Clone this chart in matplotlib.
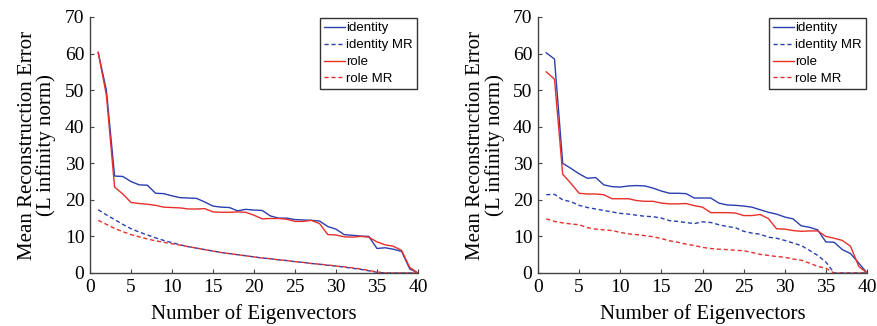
import matplotlib
matplotlib.use("Agg")
import matplotlib.pyplot as plt

# eigenvector counts
n_eig = list(range(1, 41))

# left panel
left_identity = [60.3, 50.0, 26.5, 26.4, 25.0, 24.1, 24.0, 21.8, 21.7, 21.1,
                 20.6, 20.5, 20.4, 19.4, 18.3, 18.0, 17.9, 17.0, 17.4, 17.2,
                 17.1, 15.6, 15.0, 15.0, 14.6, 14.5, 14.4, 14.2, 12.7, 12.0,
                 10.5, 10.3, 10.1, 10.0, 6.7, 6.9, 6.5, 5.9, 1.1, 0.0]
left_identity_mr = [17.3, 15.9, 14.6, 13.3, 12.1, 11.2, 10.4, 9.6, 8.9, 8.3,
                    7.7, 7.2, 6.8, 6.4, 6.0, 5.6, 5.3, 5.0, 4.7, 4.4,
                    4.1, 3.9, 3.6, 3.4, 3.1, 2.9, 2.6, 2.4, 2.1, 1.9,
                    1.6, 1.3, 1.0, 0.6, 0.2, 0.0, 0.0, 0.0, 0.0, 0.0]
left_role = [60.3, 48.6, 23.5, 21.6, 19.3, 19.0, 18.8, 18.5, 18.0, 17.9,
             17.8, 17.5, 17.5, 17.6, 16.7, 16.6, 16.6, 16.7, 16.6, 15.8,
             14.8, 14.9, 14.9, 14.7, 14.1, 14.1, 14.4, 13.5, 10.5, 10.4,
             9.9, 9.8, 10.0, 9.8, 8.5, 7.7, 7.3, 6.2, 1.5, 0.0]
left_role_mr = [14.4, 13.3, 12.2, 11.3, 10.5, 9.9, 9.3, 8.8, 8.4, 8.0,
                7.6, 7.2, 6.8, 6.4, 6.0, 5.6, 5.3, 5.0, 4.7, 4.4,
                4.1, 3.9, 3.6, 3.4, 3.1, 2.9, 2.6, 2.4, 2.2, 1.9,
                1.7, 1.4, 1.1, 0.7, 0.3, 0.0, 0.0, 0.0, 0.0, 0.0]

# right panel
right_identity = [60.2, 58.5, 30.0, 28.6, 27.1, 25.9, 26.1, 24.1, 23.6, 23.5,
                  23.8, 23.9, 23.8, 23.2, 22.4, 21.8, 21.8, 21.7, 20.5, 20.5,
                  20.5, 19.1, 18.6, 18.5, 18.3, 18.0, 17.3, 16.6, 16.1, 15.3,
                  14.8, 12.9, 12.5, 11.8, 8.5, 8.4, 6.4, 5.3, 2.7, 0.0]
right_identity_mr = [21.4, 21.5, 20.0, 19.5, 18.5, 17.9, 17.5, 17.1, 16.7, 16.3,
                     16.1, 15.8, 15.5, 15.4, 15.0, 14.3, 14.1, 13.8, 13.5, 14.0,
                     13.8, 13.2, 12.7, 12.4, 11.4, 10.9, 10.6, 9.8, 9.5, 8.9,
                     8.2, 7.5, 6.2, 4.8, 3.0, 0.0, 0.0, 0.0, 0.0, 0.0]
right_role = [55.0, 53.0, 27.0, 24.5, 21.8, 21.6, 21.6, 21.4, 20.3, 20.3,
              20.3, 19.8, 19.6, 19.6, 19.1, 18.9, 18.9, 19.0, 18.4, 18.0,
              16.5, 16.5, 16.5, 16.4, 15.7, 15.7, 16.0, 14.9, 12.1, 12.0,
              11.6, 11.4, 11.5, 11.5, 10.0, 9.5, 8.9, 7.3, 1.8, 0.0]
right_role_mr = [14.8, 14.1, 13.7, 13.4, 13.2, 12.4, 12.0, 11.8, 11.6, 11.1,
                 10.7, 10.5, 10.2, 9.9, 9.4, 8.8, 8.4, 7.9, 7.5, 7.0,
                 6.7, 6.5, 6.4, 6.2, 6.1, 5.6, 5.1, 4.8, 4.5, 4.3,
                 3.8, 3.5, 2.7, 1.8, 1.3, 0.0, 0.0, 0.0, 0.0, 0.0]

x_ticks = [0, 5, 10, 15, 20, 25, 30, 35, 40]
y_ticks = [0, 10, 20, 30, 40, 50, 60, 70]

blue = "#2a3fb0"
red = "#e8302a"
serif = ["Liberation Serif", "DejaVu Serif"]

fig = plt.figure(figsize=(8.77, 3.26), dpi=100)
ax_l = fig.add_axes([0.1026, 0.1626, 0.374, 0.7853])
ax_r = fig.add_axes([0.6135, 0.1626, 0.3751, 0.7853])

panels = [
    (ax_l, left_identity, left_identity_mr, left_role, left_role_mr),
    (ax_r, right_identity, right_identity_mr, right_role, right_role_mr),
]

for ax, ident, ident_mr, role, role_mr in panels:
    ax.plot(n_eig, ident, color=blue, lw=1.0, label="identity")
    ax.plot(n_eig, ident_mr, color=blue, lw=1.0, ls=(0, (3, 2)), label="identity MR")
    ax.plot(n_eig, role, color=red, lw=1.0, label="role")
    ax.plot(n_eig, role_mr, color=red, lw=1.0, ls=(0, (3, 2)), label="role MR")

    ax.set_xlim(0, 40)
    ax.set_ylim(0, 70)
    ax.set_xticks(x_ticks)
    ax.set_yticks(y_ticks)
    ax.spines["top"].set_visible(False)
    ax.spines["right"].set_visible(False)
    for s in ("left", "bottom"):
        ax.spines[s].set_color("#444444")
        ax.spines[s].set_linewidth(1.0)
    ax.tick_params(direction="in", length=3, width=0.8, color="#444444",
                   labelsize=14, pad=4)
    for lab in ax.get_xticklabels() + ax.get_yticklabels():
        lab.set_family(serif)
    ax.set_xlabel("Number of Eigenvectors", family=serif, fontsize=15, labelpad=6)
    ax.set_ylabel("Mean Reconstruction Error\n(L infinity norm)", family=serif,
                  fontsize=15, labelpad=6, linespacing=1.0)

    leg = ax.legend(loc="upper right", fontsize=9, frameon=True, fancybox=False,
                    edgecolor="black", borderaxespad=0.1, handlelength=1.6,
                    handletextpad=0.1, labelspacing=0.35, borderpad=0.3,
                    prop={"family": ["Liberation Sans", "DejaVu Sans"], "size": 9.5})
    leg.get_frame().set_linewidth(1.0)

fig.savefig("out.png", dpi=100)
